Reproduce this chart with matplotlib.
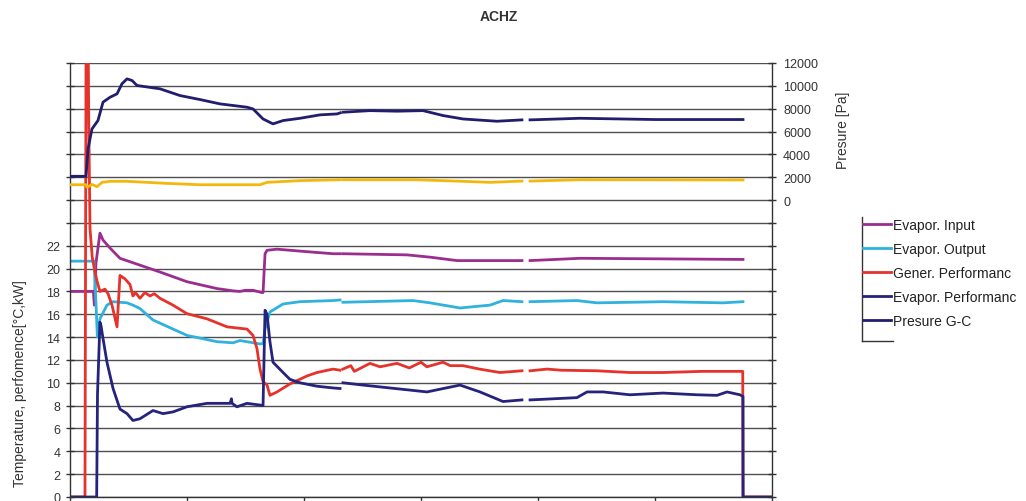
import numpy as np
import matplotlib
matplotlib.use("Agg")
import matplotlib.pyplot as plt
from matplotlib.lines import Line2D
from matplotlib.ticker import FixedLocator, FixedFormatter

plt.rcParams['font.family'] = ['Liberation Sans', 'DejaVu Sans']

nan = np.nan

# ---- data (time axis 0..600, temperatures / performance in °C, kW; pressures in Pa)
evap_in_t = [0, 20.0, 20.8, 22.2, 25.6, 28.2, 34.2, 42.7, 59.8, 76.9, 100, 125.6, 139.3, 145, 150,
             156.4, 164.1, 165.0, 166.7, 168.4, 176.9, 200, 224.8, 230.8, nan, 233.3, 288.0, 307.7,
             330.8, 384.6, 386.3, nan, 393.2, 435.9, 506.8, 575.2]
evap_in_v = [18.0, 18.0, 16.8, 20.5, 23.1, 22.5, 21.8, 20.9, 20.3, 19.7, 18.85, 18.25, 18.05, 18.0, 18.1,
             18.1, 17.9, 17.9, 21.3, 21.6, 21.7, 21.5, 21.3, 21.3, nan, 21.3, 21.2, 21.0,
             20.7, 20.7, 20.7, nan, 20.7, 20.9, 20.85, 20.8]

evap_out_t = [0, 20.5, 22.2, 23.4, 25.6, 31.6, 36.8, 48.7, 53.8, 59.8, 70.9, 100, 125.6, 139.3, 145.3,
              162.4, 165.0, 166.7, 170.9, 182.1, 196.6, 224.8, 230.8, nan, 233.3, 293.2, 307.7, 333.3,
              359.0, 370.1, 386.3, nan, 393.2, 433.3, 450.4, 506.8, 558.1, 575.2]
evap_out_v = [20.65, 20.65, 17.0, 14.0, 15.6, 16.8, 17.1, 17.0, 16.8, 16.5, 15.5, 14.15, 13.6, 13.5, 13.7,
              13.4, 13.45, 14.7, 16.2, 16.9, 17.1, 17.2, 17.25, nan, 17.05, 17.2, 17.0, 16.55,
              16.8, 17.2, 17.1, nan, 17.1, 17.2, 17.0, 17.1, 17.0, 17.1]

gen_perf_t = [0, 12.8, 14.2, 15.2, 16.0, 17.1, 19.0, 21.4, 23.1, 25.6, 29.9, 32.5, 35.9, 40.2, 42.7,
              47.0, 51.3, 53.8, 56.0, 59.8, 64.0, 68.4, 72.0, 76.9, 88.0, 100, 117.1, 134.2, 151.3,
              156.4, 159.8, 162.4, 165.0, 168.4, 170.9, 176.9, 188.0, 202.6, 211.1, 224.8, 230.8, nan,
              233.3, 240.0, 243.0, 256.4, 265.0, 279.5, 290.0, 300.0, 305.0, 318.8, 325.0, 335.9,
              350.0, 367.5, 386.3, nan, 393.2, 407.7, 420.0, 450.4, 478.6, 506.8, 540.0, 575.0,
              575.2, 600]
gen_perf_v = [0, 0, 60, 45, 33, 23.5, 21.0, 19.7, 18.9, 18.0, 18.2, 17.8, 16.8, 14.9, 19.4,
              19.1, 18.6, 17.6, 17.9, 17.4, 17.9, 17.6, 17.8, 17.4, 16.8, 16.05, 15.6, 14.9, 14.7,
              14.15, 13.0, 11.2, 10.1, 9.8, 8.9, 9.2, 9.9, 10.6, 10.9, 11.2, 11.1, nan,
              11.2, 11.5, 11.0, 11.7, 11.4, 11.7, 11.3, 11.8, 11.4, 11.8, 11.5, 11.5,
              11.2, 10.9, 11.05, nan, 11.05, 11.2, 11.1, 11.05, 10.9, 10.9, 11.0, 11.0,
              0, 0]

evap_perf_t = [0, 22.8, 23.5, 25.6, 26.5, 28.2, 31.6, 36.8, 42.7, 48.7, 53.8, 59.8, 70.9, 79.5, 88.0,
               100, 117.1, 136.8, 138.0, 138.5, 142.7, 151.3, 162.4, 165.0, 166.7, 168.4, 170.9,
               173.5, 182.1, 188.0, 196.6, 211.1, 224.8, 230.8, nan, 233.3, 250.4, 305.1, 333.3,
               350.4, 370.1, 386.3, nan, 393.2, 433.3, 441.9, 455.6, 478.6, 506.8, 535.9, 553.0,
               561.5, 572.6, 575.2, 575.3, 600]
evap_perf_v = [0, 0, 9.0, 15.3, 15.0, 13.9, 11.8, 9.5, 7.7, 7.3, 6.7, 6.85, 7.57, 7.3, 7.45,
               7.9, 8.2, 8.2, 8.6, 8.2, 7.9, 8.2, 8.05, 8.0, 16.35, 16.0, 13.6,
               11.8, 10.9, 10.3, 10.0, 9.7, 9.55, 9.5, nan, 10.0, 9.8, 9.2, 9.8,
               9.2, 8.36, 8.5, nan, 8.5, 8.7, 9.2, 9.2, 8.95, 9.1, 8.95, 8.9,
               9.2, 8.95, 8.8, 0, 0]

pres_gc_t = [0, 13.7, 15.4, 18.8, 23.9, 28.2, 34.2, 40.2, 44.4, 48.7, 53.0, 57.3, 76.9, 94.0, 111.1,
             128.2, 151.3, 156.4, 165.0, 173.5, 182.1, 196.6, 213.7, 228.2, 230.8, nan, 233.3, 256.4,
             279.5, 301.7, 318.8, 335.9, 365.0, 386.3, nan, 393.2, 435.9, 500.0, 575.2]
pres_gc_v = [2080, 2080, 4470, 6230, 6960, 8570, 9000, 9300, 10180, 10610, 10470, 10030, 9740, 9150, 8800,
             8420, 8130, 7980, 7100, 6670, 6960, 7160, 7460, 7540, 7630, nan, 7690, 7830,
             7780, 7830, 7400, 7100, 6900, 7020, nan, 7020, 7160, 7050, 7050]

pres_2_t = [0, 13.7, 14.5, 18.8, 23.1, 27.4, 34.2, 48.7, 82.9, 111.1, 162.4, 168.4, 196.6, 230.8, nan,
            233.3, 295.0, 335.9, 359.0, 386.3, nan, 393.2, 435.9, 575.2]
pres_2_v = [1340, 1340, 1110, 1370, 1170, 1550, 1640, 1640, 1460, 1340, 1340, 1550, 1700, 1780, nan,
            1780, 1780, 1640, 1550, 1660, nan, 1660, 1780, 1760]

left_ticks = list(range(0, 39, 2))
left_labels = [str(v) if v <= 22 else "" for v in left_ticks]
right_ticks = list(range(-26000, 12001, 2000))
right_labels = [str(v) if v >= 0 else "" for v in right_ticks]
x_ticks = [0, 100, 200, 300, 400, 500, 600]

series_labels = ["Evapor. Input", "Evapor. Output", "Gener. Performanc",
                 "Evapor. Performanc", "Presure G-C"]

# ---- figure
W, H = 1026, 502
fig = plt.figure(figsize=(W / 100, H / 100), dpi=100)
ax = fig.add_axes([70 / W, 1 - 498 / H, (772 - 70) / W, (498 - 64) / H])
ax2 = ax.twinx()

lw = 2.0
c_in, c_out, c_gen, c_evp, c_pgc, c_p2 = "#9B2D8E", "#2FB2DE", "#E5322B", "#25237C", "#211E6E", "#F2B80C"

l1, = ax.plot(evap_in_t, evap_in_v, color=c_in, lw=lw)
l2, = ax.plot(evap_out_t, evap_out_v, color=c_out, lw=lw)
l3, = ax.plot(gen_perf_t, gen_perf_v, color=c_gen, lw=lw)
l4, = ax.plot(evap_perf_t, evap_perf_v, color=c_evp, lw=lw)
l5, = ax2.plot(pres_gc_t, pres_gc_v, color=c_pgc, lw=lw)
ax2.plot(pres_2_t, pres_2_v, color=c_p2, lw=lw)

ax.set_xlim(0, 600)
ax.set_ylim(0, 38)
ax2.set_ylim(-26000, 12000)

ax.yaxis.set_major_locator(FixedLocator(left_ticks))
ax.yaxis.set_major_formatter(FixedFormatter(left_labels))
ax2.yaxis.set_major_locator(FixedLocator(right_ticks))
ax2.yaxis.set_major_formatter(FixedFormatter(right_labels))
ax.xaxis.set_major_locator(FixedLocator(x_ticks))
ax.set_xticklabels([])

ax.grid(axis='y', color='#505050', lw=1.0)
ax.set_axisbelow(True)

for a in (ax, ax2):
    a.spines['top'].set_visible(False)
    for s in a.spines.values():
        s.set_color('#333333')
        s.set_linewidth(1.0)
    a.tick_params(colors='#333333', labelsize=9, width=1.0, length=6, direction='inout')
    a.tick_params(axis='y', labelcolor='#333333')
ax.spines['right'].set_visible(False)
ax2.spines['left'].set_visible(False)
ax2.spines['bottom'].set_visible(False)
ax.tick_params(axis='x', direction='out', length=4)
ax.tick_params(axis='y', pad=4)
ax2.tick_params(axis='y', pad=5)

fig.text(499 / W, 1 - 17 / H, "ACHZ", ha='center', va='center', fontsize=10, fontweight='bold',
         color='#333333')
fig.text(20 / W, 1 - 384 / H, "Temperature, perfomence[°C,kW]", rotation=90, ha='center',
         va='center', fontsize=10, color='#333333')
fig.text(843 / W, 1 - 130 / H, "Presure [Pa]", rotation=90, ha='center', va='center',
         fontsize=10, color='#333333')

leg = fig.legend([l1, l2, l3, l4, l5], series_labels, loc='upper left',
                 bbox_to_anchor=(860 / W, 1 - 216 / H), frameon=False, fontsize=10,
                 handlelength=2.0, handletextpad=0.15, labelspacing=0.72, borderaxespad=0,
                 borderpad=0.2)
for txt in leg.get_texts():
    txt.set_color('#222222')

fig.add_artist(Line2D([862 / W, 862 / W], [1 - 218 / H, 1 - 342 / H], color='#333333', lw=1.0))
fig.add_artist(Line2D([862 / W, 893 / W], [1 - 342 / H, 1 - 342 / H], color='#333333', lw=1.0))

fig.savefig("out.png", dpi=100)
